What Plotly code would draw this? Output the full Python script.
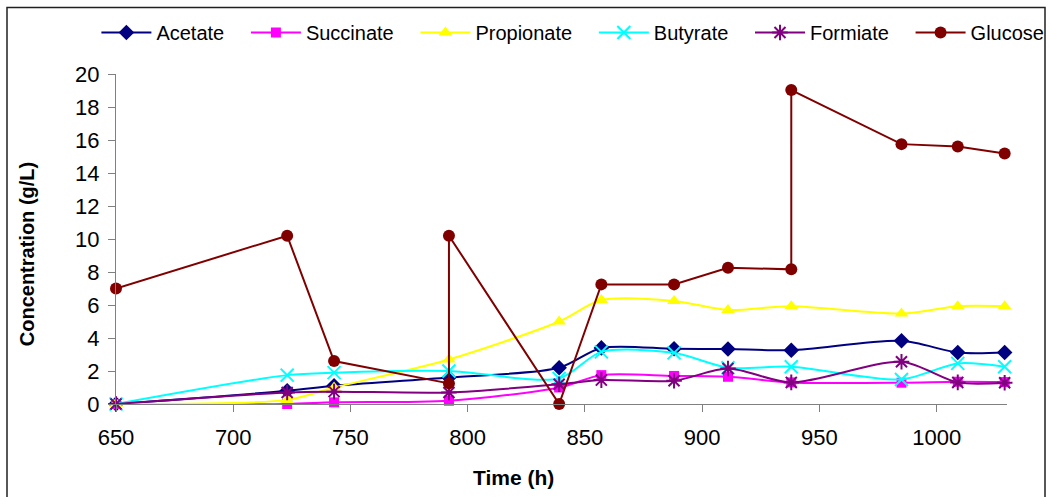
import plotly.graph_objects as go

# Sampling times (h) for the acids
time_h = [650, 723, 743, 792, 839, 857, 888, 911, 938, 985, 1009, 1029]

# Acid concentrations (g/L)
acetate = [0, 0.8, 1.1, 1.6, 2.2, 3.4, 3.35, 3.33, 3.26, 3.83, 3.12, 3.12]
succinate = [0, 0, 0.1, 0.2, 1.0, 1.75, 1.7, 1.65, 1.31, 1.29, 1.35, 1.33]
propionate = [0, 0.25, 1.0, 2.7, 5.0, 6.3, 6.25, 5.7, 5.93, 5.48, 5.93, 5.93]
butyrate = [0, 1.75, 1.9, 2.0, 1.55, 3.16, 3.1, 2.2, 2.26, 1.49, 2.46, 2.26]
formiate = [0, 0.7, 0.75, 0.7, 1.2, 1.45, 1.41, 2.15, 1.31, 2.56, 1.31, 1.29]

# Glucose, including the feed additions at 792 h and 938 h
glucose_time = [650, 723, 743, 792, 792, 839, 857, 888, 911, 938, 938, 985, 1009, 1029]
glucose = [7.0, 10.2, 2.6, 1.25, 10.2, 0, 7.25, 7.25, 8.26, 8.16, 19.03, 15.75, 15.6, 15.18]

FONT = "Liberation Sans, Arial, sans-serif"
PAD = "\u00a0\u00a0\u00a0"  # extra spacing after each legend label

acid_series = [
    ("Acetate", acetate, "#000080", "diamond", 12, 0),
    ("Succinate", succinate, "#FF00FF", "square", 10, 0),
    ("Propionate", propionate, "#FFFF00", "triangle-up", 12, 0),
    ("Butyrate", butyrate, "#00FFFF", "x-thin-open", 13, 2),
    ("Formiate", formiate, "#800080", "asterisk-open", 13, 2),
]

fig = go.Figure()
for name, vals, color, symbol, size, mlw in acid_series:
    fig.add_trace(go.Scatter(
        x=time_h, y=vals, name=name + PAD, mode="lines+markers",
        line=dict(color=color, width=2, shape="spline", smoothing=0.8),
        marker=dict(symbol=symbol, size=size, color=color,
                    line=dict(color=color, width=mlw)),
        cliponaxis=False,
    ))

fig.add_trace(go.Scatter(
    x=glucose_time, y=glucose, name="Glucose", mode="lines+markers",
    line=dict(color="#800000", width=2),
    marker=dict(symbol="circle", size=12, color="#800000"),
    cliponaxis=False,
))

fig.update_layout(
    width=1050, height=497,
    margin=dict(l=116, r=43, t=73.5, b=93),
    paper_bgcolor="white", plot_bgcolor="white",
    font=dict(family=FONT, color="black", size=21),
    showlegend=True,
    legend=dict(
        orientation="h", x=-0.022, xanchor="left", y=1.1256, yanchor="middle",
        font=dict(size=20, family=FONT), itemwidth=50,
        bgcolor="rgba(0,0,0,0)", traceorder="normal",
    ),
    xaxis=dict(
        range=[650, 1030], tickmode="array",
        tickvals=[650, 700, 750, 800, 850, 900, 950, 1000],
        showgrid=False, zeroline=False, showline=True,
        linecolor="#808080", linewidth=1,
        ticks="outside", ticklen=7, tickcolor="#808080",
        tickfont=dict(size=22, family=FONT), ticklabelstandoff=7,
    ),
    yaxis=dict(
        range=[0, 20], tickmode="array", tickvals=list(range(0, 21, 2)),
        showgrid=False, zeroline=False, showline=True,
        linecolor="#808080", linewidth=1,
        ticks="outside", ticklen=7, tickcolor="#808080",
        tickfont=dict(size=22, family=FONT), ticklabelstandoff=4,
    ),
    annotations=[
        dict(text="<b>Time (h)</b>", xref="paper", yref="paper",
             x=(513 - 116) / 891, y=(404 - 478) / 330.5,
             xanchor="center", yanchor="middle", showarrow=False,
             font=dict(size=21, family=FONT)),
        dict(text="<b>Concentration (g/L)</b>", xref="paper", yref="paper",
             x=(27 - 116) / 891, y=(404 - 254) / 330.5, textangle=-90,
             xanchor="center", yanchor="middle", showarrow=False,
             font=dict(size=20, family=FONT)),
    ],
    shapes=[
        dict(type="rect", xref="paper", yref="paper",
             x0=(7 - 116) / 891, x1=(1045 - 116) / 891,
             y0=(404 - 510) / 330.5, y1=(404 - 7) / 330.5,
             line=dict(color="#202020", width=1.5), layer="below"),
    ],
)

fig.write_html("out.html")
